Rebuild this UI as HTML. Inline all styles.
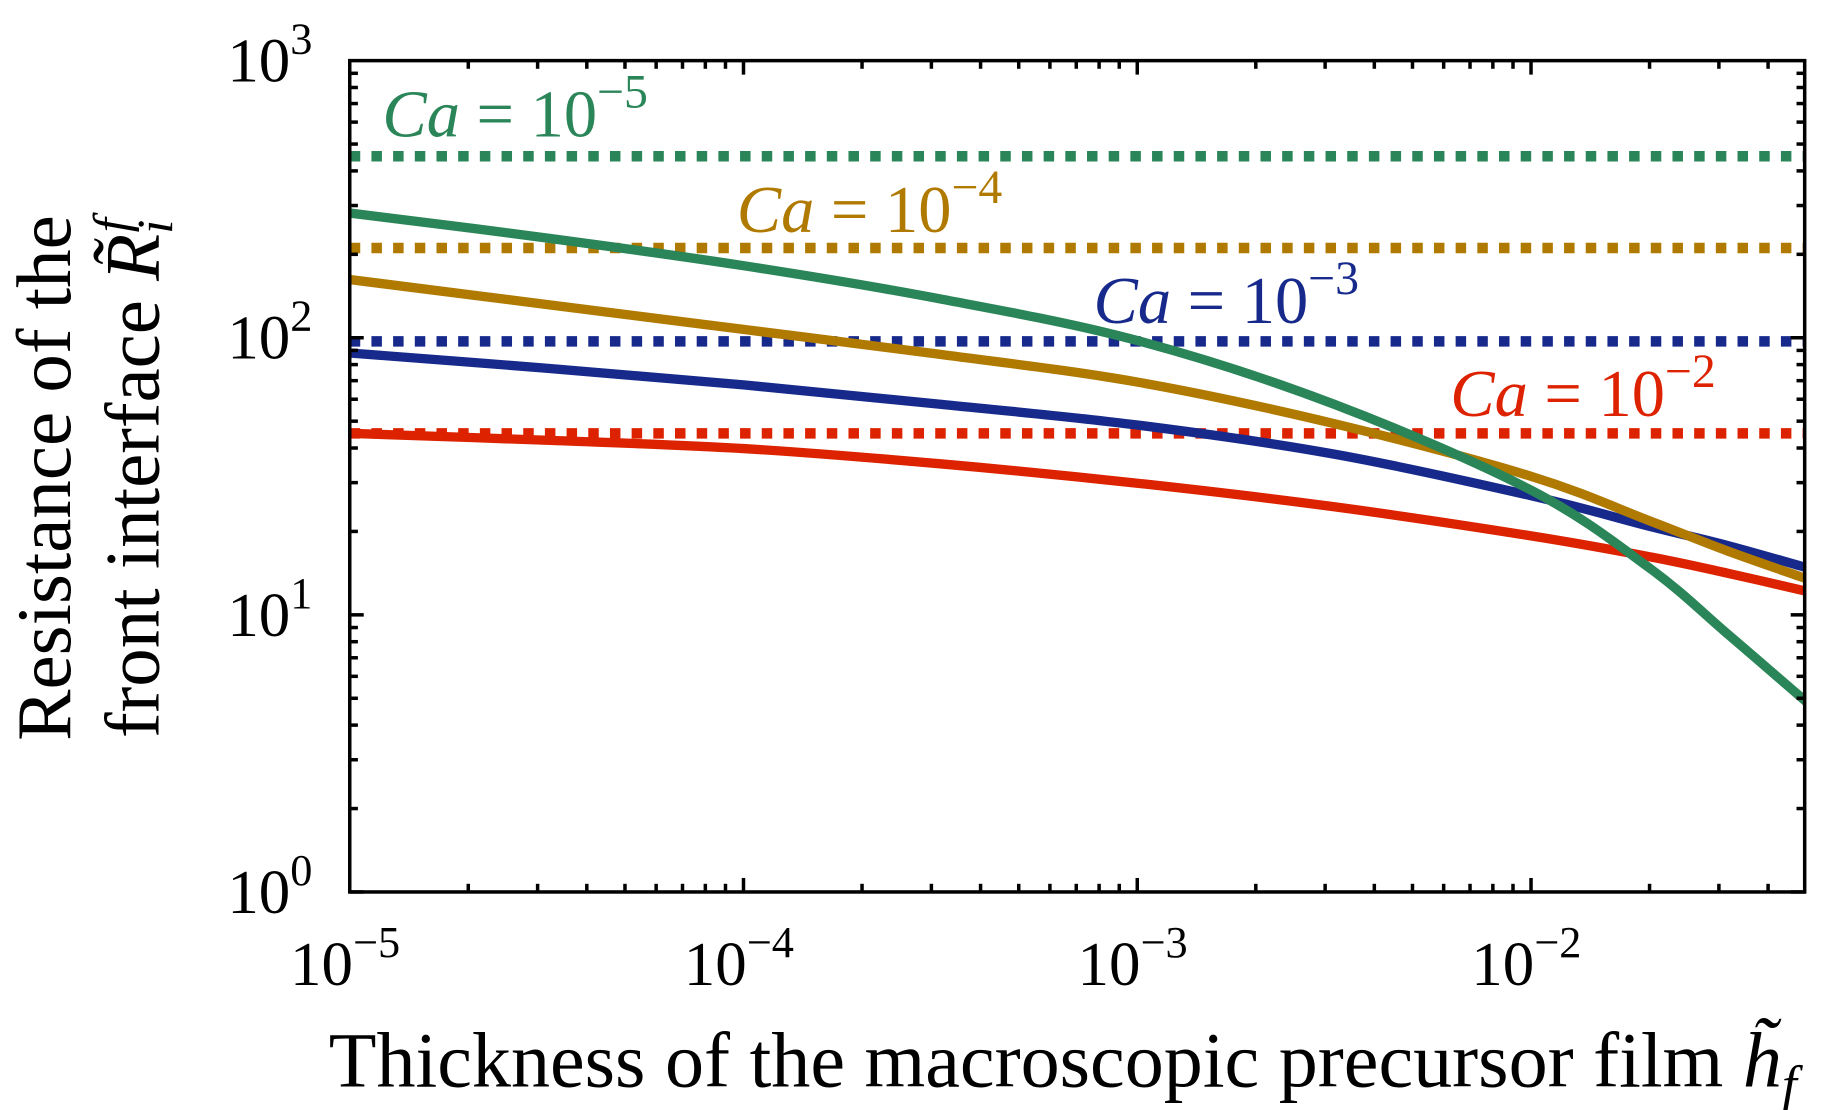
<!DOCTYPE html>
<html><head><meta charset="utf-8"><style>
html,body{margin:0;padding:0;background:#fff;}
svg{display:block;}
text{font-family:"Liberation Serif",serif;}
</style></head><body>
<svg id="chart" width="1828" height="1110" viewBox="0 0 1568 952" preserveAspectRatio="none" xmlns="http://www.w3.org/2000/svg">
<g id="plot"></g>
</svg>
<script>
const xLogs = [-5, -4.5, -4, -3.5, -3, -2.5, -2, -1.7, -1.5, -1.3];
const greenVals = [2.45, 2.36, 2.26, 2.14, 1.99, 1.76, 1.45, 1.17, 0.93, 0.685];
const goldVals  = [2.21, 2.12, 2.03, 1.94, 1.84, 1.69, 1.50, 1.34, 1.23, 1.13];
const blueVals  = [1.945, 1.89, 1.83, 1.76, 1.685, 1.58, 1.43, 1.32, 1.25, 1.17];
const redVals   = [1.655, 1.63, 1.60, 1.545, 1.475, 1.39, 1.285, 1.21, 1.15, 1.085];
const limitVals = [2.655, 2.324, 1.987, 1.655];
const seriesNames = ["ca-1e-5", "ca-1e-4", "ca-1e-3", "ca-1e-2"];
const caExponents = ["−5", "−4", "−3", "−2"];
const xTickExps = [-5, -4, -3, -2];
const yTickExps = [0, 1, 2, 3];

const L=300, R=1548, T=52, B=765, xMin=-5, xMax=-1.305, yMin=0, yMax=3;
function sx(v){return L+(v-xMin)/(xMax-xMin)*(R-L);}
function sy(v){return B-(v-yMin)/(yMax-yMin)*(B-T);}
const NS="http://www.w3.org/2000/svg";
const g=document.getElementById('plot');
function el(tag,attrs,parent){const e=document.createElementNS(NS,tag);for(const k in attrs)e.setAttribute(k,attrs[k]);(parent||g).appendChild(e);return e;}
const colors=["#2a8558","#b07a00","#172a8c","#dd2200"];
const curves=[greenVals,goldVals,blueVals,redVals];

const defs=el('defs',{});
const cp=el('clipPath',{id:'clip'},defs);
el('rect',{x:L,y:T,width:R-L,height:B-T},cp);

limitVals.forEach((v,i)=>{
  const ln=el('line',{x1:L,x2:R,y1:sy(v),y2:sy(v),stroke:colors[i],'stroke-width':9,'stroke-dasharray':'9 9.6','clip-path':'url(#clip)'});
  
  
});
function pathFor(vals){
  const p=xLogs.map((x,i)=>[sx(x),sy(vals[i])]);
  let d='M'+p[0][0]+','+p[0][1];
  for(let i=0;i<p.length-1;i++){
    const p0=p[i-1]||p[i],p1=p[i],p2=p[i+1],p3=p[i+2]||p[i+1];
    const c1=[p1[0]+(p2[0]-p0[0])/6,p1[1]+(p2[1]-p0[1])/6];
    const c2=[p2[0]-(p3[0]-p1[0])/6,p2[1]-(p3[1]-p1[1])/6];
    d+=` C${c1[0]},${c1[1]} ${c2[0]},${c2[1]} ${p2[0]},${p2[1]}`;
  }
  return d;
}
[3,2,1,0].forEach(i=>{
  const pth=el('path',{d:pathFor(curves[i]),fill:'none',stroke:colors[i],'stroke-width':8,'clip-path':'url(#clip)'});
  
  
});
const fr=el('rect',{x:L,y:T,width:R-L,height:B-T,fill:'none',stroke:'#000','stroke-width':3});


for(let d=-5;d<=-2;d++){
  for(let m=1;m<10;m++){
    const v=d+Math.log10(m); if(v>xMax)break;
    const len=m===1?12:7, x=sx(v);
    el('line',{x1:x,x2:x,y1:B,y2:B-len,stroke:'#000','stroke-width':3});
    el('line',{x1:x,x2:x,y1:T,y2:T+len,stroke:'#000','stroke-width':3});
  }
}
for(let d=0;d<3;d++){
  for(let m=1;m<10;m++){
    const v=d+Math.log10(m), len=m===1?12:7, y=sy(v);
    el('line',{x1:L,x2:L+len,y1:y,y2:y,stroke:'#000','stroke-width':3});
    el('line',{x1:R,x2:R-len,y1:y,y2:y,stroke:'#000','stroke-width':3});
  }
}
xTickExps.forEach(e=>{
  const t=el('text',{x:sx(e)-4,y:B+80,'font-size':54,'text-anchor':'middle'});
  
  
  t.innerHTML='10<tspan dy="-24" font-size="38">'+(e<0?'−':'')+Math.abs(e)+'</tspan>';
});
yTickExps.forEach(e=>{
  const t=el('text',{x:268,y:sy(e)+18,'font-size':54,'text-anchor':'end'});
  
  
  t.innerHTML='10<tspan dy="-24" font-size="38">'+e+'</tspan>';
});
const labPos=[[328,117],[632,199],[938,277],[1244,357]];
labPos.forEach((p,i)=>{
  const t=el('text',{x:p[0],y:p[1],'font-size':57,fill:colors[i]});
  
  
  t.innerHTML='<tspan font-style="italic">Ca</tspan> = 10<tspan dy="-25" font-size="41">'+caExponents[i]+'</tspan>';
});
const xt=el('text',{x:282,y:932,'font-size':67});


xt.innerHTML='Thickness of the macroscopic precursor film <tspan font-style="italic">h̃</tspan><tspan font-style="italic" font-size="46" dy="14">f</tspan>';
const yt1=el('text',{transform:'translate(60,410) rotate(-90)','font-size':66,'text-anchor':'middle'});


yt1.textContent='Resistance of the';
const yt2=el('text',{transform:'translate(136,410) rotate(-90)','font-size':66,'text-anchor':'middle'});


yt2.innerHTML='front interface <tspan font-style="italic">R̃</tspan><tspan font-style="italic" font-size="44" dy="12">i</tspan><tspan font-style="italic" font-size="44" dx="-11" dy="-38">f</tspan>';
</script>
</body></html>
